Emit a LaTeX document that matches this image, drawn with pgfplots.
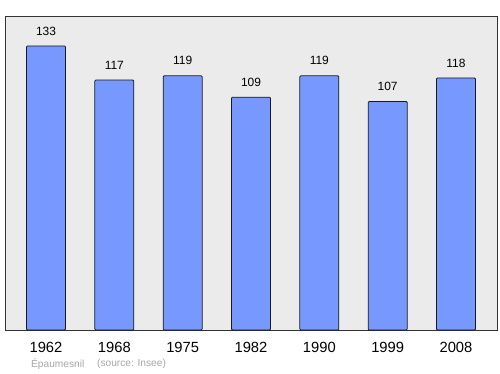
\documentclass[border=0pt]{standalone}
\usepackage{pgfplots}
\pgfplotsset{compat=1.18}
\usepackage{fontspec}
\setmainfont{Liberation Sans}
\definecolor{barblue}{RGB}{119,153,255}
\definecolor{bg}{RGB}{235,235,235}
\begin{document}
\begin{tikzpicture}
\useasboundingbox (0,0) rectangle (500bp,374bp);
\begin{axis}[
  at={(5bp,44bp)}, anchor=south west,
  scale only axis, width=492bp, height=314bp,
  xmin=-0.6, xmax=6.6, ymin=0, ymax=147,
  axis background/.style={fill=bg},
  axis line style={draw=black!80, line width=0.9pt},
  ybar, bar width=39bp,
  xtick=data,
  xticklabels={1962,1968,1975,1982,1990,1999,2008},
  xticklabel style={font=\fontsize{14.8}{16}\selectfont, yshift=-9bp},
  major tick length=0pt,
  ytick=\empty,
  nodes near coords,
  nodes near coords style={font=\fontsize{12}{13}\selectfont, yshift=7bp},
  /pgf/number format/assume math mode=true,
  clip=false,
]
\addplot[fill=barblue, draw=black!90, line width=0.8pt, rounded corners=1pt] coordinates {(0,133) (1,117) (2,119) (3,109) (4,119) (5,107) (6,118)};
\end{axis}
\node[anchor=west, text=black!35, font=\fontsize{10.2}{12}\selectfont, inner sep=0] at (31bp,10bp) {Épaumesnil};
\node[anchor=west, text=black!35, font=\fontsize{10.2}{12}\selectfont, inner sep=0] at (97bp,10bp) {(source: Insee)};
\end{tikzpicture}
\end{document}
